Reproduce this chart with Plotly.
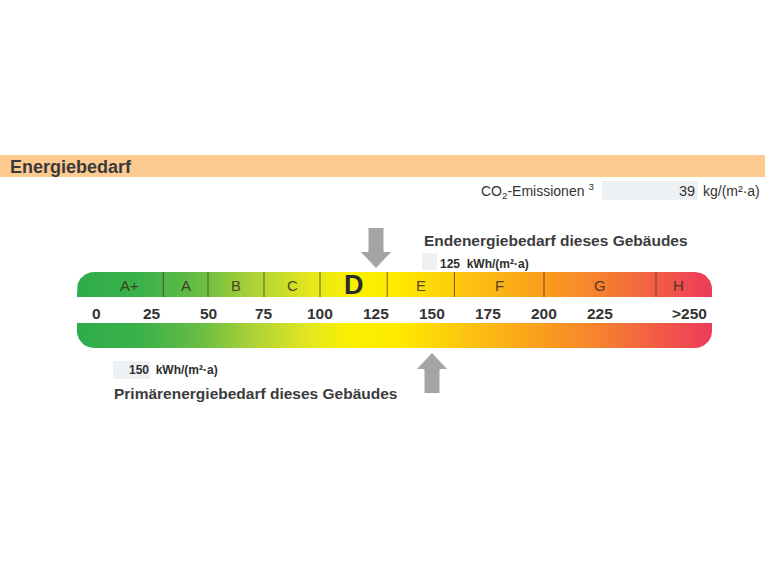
import numpy as np
import plotly.graph_objects as go

# ---------------- data ----------------
classes = ["A+", "A", "B", "C", "D", "E", "F", "G", "H"]
class_bounds = [0, 30, 50, 75, 100, 130, 160, 200, 250, 270]
tick_values = [0, 25, 50, 75, 100, 125, 150, 175, 200, 225, 265]
tick_labels = ["0", "25", "50", "75", "100", "125", "150", "175", "200", "225", ">250"]
current_class = "D"
endenergie = 125      # kWh/(m²·a)
primaerenergie = 150  # kWh/(m²·a)
co2_emission = 39     # kg/(m²·a)

grad_values = [-8.5, 20, 45, 70, 95, 115, 135, 150, 175, 200, 225, 250, 275]
grad_colors = ["#2fac4a", "#3ab249", "#66bc44", "#acd236", "#e2e71f", "#fcf000",
               "#ffea00", "#fdd80a", "#fcb914", "#fa9d1e", "#f6812e", "#f25d45", "#ec3b5a"]

# ---------------- geometry helpers ----------------
W, H = 768, 567
PX0 = 96.0      # pixel position of value 0
PXU = 2.24      # pixels per kWh unit
XMIN = -PX0 / PXU
XMAX = (W - PX0) / PXU
BAR_X0, BAR_X1 = grad_values[0], grad_values[-1]


def pxx(px):
    return px / W


def rounded_bar(x0, x1, y0, y1, r_px, round_top):
    rx = r_px / PXU
    ry = r_px
    xs, ys = [], []
    if round_top:
        xs.append(x0); ys.append(y1)
        for a in np.linspace(np.pi, np.pi / 2, 24):
            xs.append(x0 + rx + rx * np.cos(a)); ys.append(y0 + ry - ry * np.sin(a))
        for a in np.linspace(np.pi / 2, 0, 24):
            xs.append(x1 - rx + rx * np.cos(a)); ys.append(y0 + ry - ry * np.sin(a))
        xs.append(x1); ys.append(y1)
    else:
        xs.append(x0); ys.append(y0)
        xs.append(x1); ys.append(y0)
        for a in np.linspace(0, -np.pi / 2, 24):
            xs.append(x1 - rx + rx * np.cos(a)); ys.append(y1 - ry - ry * np.sin(a))
        for a in np.linspace(-np.pi / 2, -np.pi, 24):
            xs.append(x0 + rx + rx * np.cos(a)); ys.append(y1 - ry - ry * np.sin(a))
    xs.append(xs[0]); ys.append(ys[0])
    return xs, ys


def arrow(cx, tip_y, base_y, head_len=16, shaft_half=7.5, head_half=15):
    sh = shaft_half / PXU
    hh = head_half / PXU
    d = 1 if tip_y > base_y else -1
    neck = tip_y - d * head_len
    xs = [cx - sh, cx + sh, cx + sh, cx + hh, cx, cx - hh, cx - sh, cx - sh]
    ys = [base_y, base_y, neck, neck, tip_y, neck, neck, base_y]
    return xs, ys


colorscale = [[(v - grad_values[0]) / (grad_values[-1] - grad_values[0]), c]
              for v, c in zip(grad_values, grad_colors)]

fig = go.Figure()

# ---------------- gradient bars ----------------
for (y0, y1, top) in [(272, 297, True), (323, 348, False)]:
    bx, by = rounded_bar(BAR_X0, BAR_X1, y0, y1, 17, top)
    fig.add_trace(go.Scatter(
        x=bx, y=by, mode="lines", fill="toself",
        line=dict(width=0, color="rgba(0,0,0,0)"),
        fillgradient=dict(type="horizontal", colorscale=colorscale,
                          start=BAR_X0, stop=BAR_X1),
        hoverinfo="skip", showlegend=False))

# class dividers
div_x, div_y = [], []
for b in class_bounds[1:-1]:
    div_x += [b, b, None]
    div_y += [272, 297, None]
fig.add_trace(go.Scatter(x=div_x, y=div_y, mode="lines",
                         line=dict(color="rgba(70,50,30,0.75)", width=1),
                         hoverinfo="skip", showlegend=False))

# class letters
mids = [(a + b) / 2 for a, b in zip(class_bounds[:-1], class_bounds[1:])]
for cls, m in zip(classes, mids):
    if cls == current_class:
        fig.add_annotation(x=m, y=285, text="<b>%s</b>" % cls, showarrow=False,
                           font=dict(family="Liberation Sans", size=27, color="#2b2b2b"))
    else:
        fig.add_annotation(x=m, y=285, text=cls, showarrow=False,
                           font=dict(family="Liberation Sans", size=15, color="rgba(60,48,30,0.9)"))

# tick numbers
for v, t in zip(tick_values, tick_labels):
    fig.add_annotation(x=v, y=313, text="<b>%s</b>" % t, showarrow=False,
                       font=dict(family="Liberation Sans", size=15.5, color="#333333"))

# arrows
ax, ay = arrow(endenergie, 268, 228)
fig.add_trace(go.Scatter(x=ax, y=ay, mode="lines", fill="toself", fillcolor="#a4a4a4",
                         line=dict(width=0, color="#a4a4a4"), hoverinfo="skip", showlegend=False))
ax, ay = arrow(primaerenergie, 353, 393)
fig.add_trace(go.Scatter(x=ax, y=ay, mode="lines", fill="toself", fillcolor="#a4a4a4",
                         line=dict(width=0, color="#a4a4a4"), hoverinfo="skip", showlegend=False))

# ---------------- texts ----------------
fig.add_annotation(xref="paper", x=pxx(8), y=167, xanchor="left", text="<b>Energiebedarf</b>",
                   showarrow=False, font=dict(family="Liberation Sans", size=18, color="#3a3a3a"))

fig.add_annotation(xref="paper", x=pxx(596), y=191, xanchor="right",
                   text="CO<sub>2</sub>-Emissionen <sup>3</sup>", showarrow=False,
                   font=dict(family="Liberation Sans", size=14, color="#333333"))
fig.add_annotation(xref="paper", x=pxx(697), y=191, xanchor="right", text=str(co2_emission),
                   showarrow=False, font=dict(family="Liberation Sans", size=14.5, color="#333333"))
fig.add_annotation(xref="paper", x=pxx(701), y=191, xanchor="left", text="kg/(m²·a)",
                   showarrow=False, font=dict(family="Liberation Sans", size=14, color="#333333"))

fig.add_annotation(xref="paper", x=pxx(422), y=240, xanchor="left",
                   text="<b>Endenergiebedarf dieses Gebäudes</b>", showarrow=False,
                   font=dict(family="Liberation Sans", size=15.5, color="#3c3c3c"))
fig.add_annotation(xref="paper", x=pxx(438), y=264, xanchor="left",
                   text="<b>%d  kWh/(m²·a)</b>" % endenergie, showarrow=False,
                   font=dict(family="Liberation Sans", size=12, color="#2e2e2e"))

fig.add_annotation(xref="paper", x=pxx(127), y=370, xanchor="left",
                   text="<b>%d  kWh/(m²·a)</b>" % primaerenergie, showarrow=False,
                   font=dict(family="Liberation Sans", size=12, color="#2e2e2e"))
fig.add_annotation(xref="paper", x=pxx(112), y=393, xanchor="left",
                   text="<b>Primärenergiebedarf dieses Gebäudes</b>", showarrow=False,
                   font=dict(family="Liberation Sans", size=15.5, color="#3c3c3c"))

# ---------------- background shapes ----------------
shapes = [
    dict(type="rect", xref="paper", yref="y", x0=0, x1=pxx(765), y0=155, y1=177,
         fillcolor="#fdca90", line=dict(width=0), layer="below"),
    dict(type="rect", xref="paper", yref="y", x0=pxx(602), x1=pxx(698), y0=181, y1=200,
         fillcolor="#eef1f3", line=dict(width=0), layer="below"),
    dict(type="rect", xref="paper", yref="y", x0=pxx(422), x1=pxx(437), y0=253, y1=270,
         fillcolor="#eef1f3", line=dict(width=0), layer="below"),
    dict(type="rect", xref="paper", yref="y", x0=pxx(113), x1=pxx(150), y0=361, y1=379,
         fillcolor="#eef1f3", line=dict(width=0), layer="below"),
]

fig.update_layout(
    width=W, height=H,
    margin=dict(l=0, r=0, t=0, b=0),
    paper_bgcolor="white", plot_bgcolor="white",
    xaxis=dict(range=[XMIN, XMAX], visible=False, fixedrange=True),
    yaxis=dict(range=[H, 0], visible=False, fixedrange=True),
    shapes=shapes,
    showlegend=False,
)

fig.write_html("out.html")
